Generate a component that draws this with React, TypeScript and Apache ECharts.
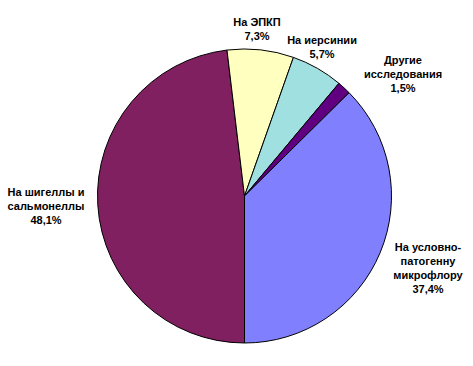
import React, { useEffect, useRef } from "react";
import * as echarts from "echarts";

const categories = [
  "На шигеллы и\nсальмонеллы",
  "На ЭПКП",
  "На иерсинии",
  "Другие\nисследования",
  "На условно-\nпатогенну\nмикрофлору",
];
const values = [48.1, 7.3, 5.7, 1.5, 37.4];
const colors = ["#802060", "#FFFFC0", "#A0E0E0", "#600080", "#8080FF"];
const labelPositions = [
  [46, 206],
  [257, 29],
  [322, 47],
  [403, 74],
  [428, 268],
];

export default function App() {
  const ref = useRef<HTMLDivElement>(null);
  useEffect(() => {
    if (!ref.current) return;
    const chart = echarts.init(ref.current, null, { renderer: "svg" });
    chart.setOption({
      animation: false,
      backgroundColor: "#ffffff",
      series: [
        {
          type: "pie",
          center: [244.5, 196],
          radius: 147,
          startAngle: 270,
          clockwise: true,
          avoidLabelOverlap: false,
          itemStyle: { borderColor: "#000000", borderWidth: 1 },
          label: {
            show: true,
            position: "outside",
            color: "#000000",
            fontFamily: "Liberation Sans, Arial, sans-serif",
            fontSize: 11,
            fontWeight: "bold",
            lineHeight: 14,
            align: "center",
            formatter: (p: any) =>
              `${p.name}\n${Number(p.value).toFixed(1).replace(".", ",")}%`,
          },
          labelLine: { show: false },
          labelLayout: (params: any) => {
            const pos = labelPositions[params.dataIndex];
            return {
              x: pos[0],
              y: pos[1],
              align: "center",
              verticalAlign: "middle",
            };
          },
          data: categories.map((c, i) => ({
            name: c,
            value: values[i],
            itemStyle: { color: colors[i] },
          })),
        },
      ],
    });
    return () => chart.dispose();
  }, []);
  return (
    <div
      ref={ref}
      style={{ position: "fixed", left: 0, top: 0, width: 473, height: 366 }}
    />
  );
}
